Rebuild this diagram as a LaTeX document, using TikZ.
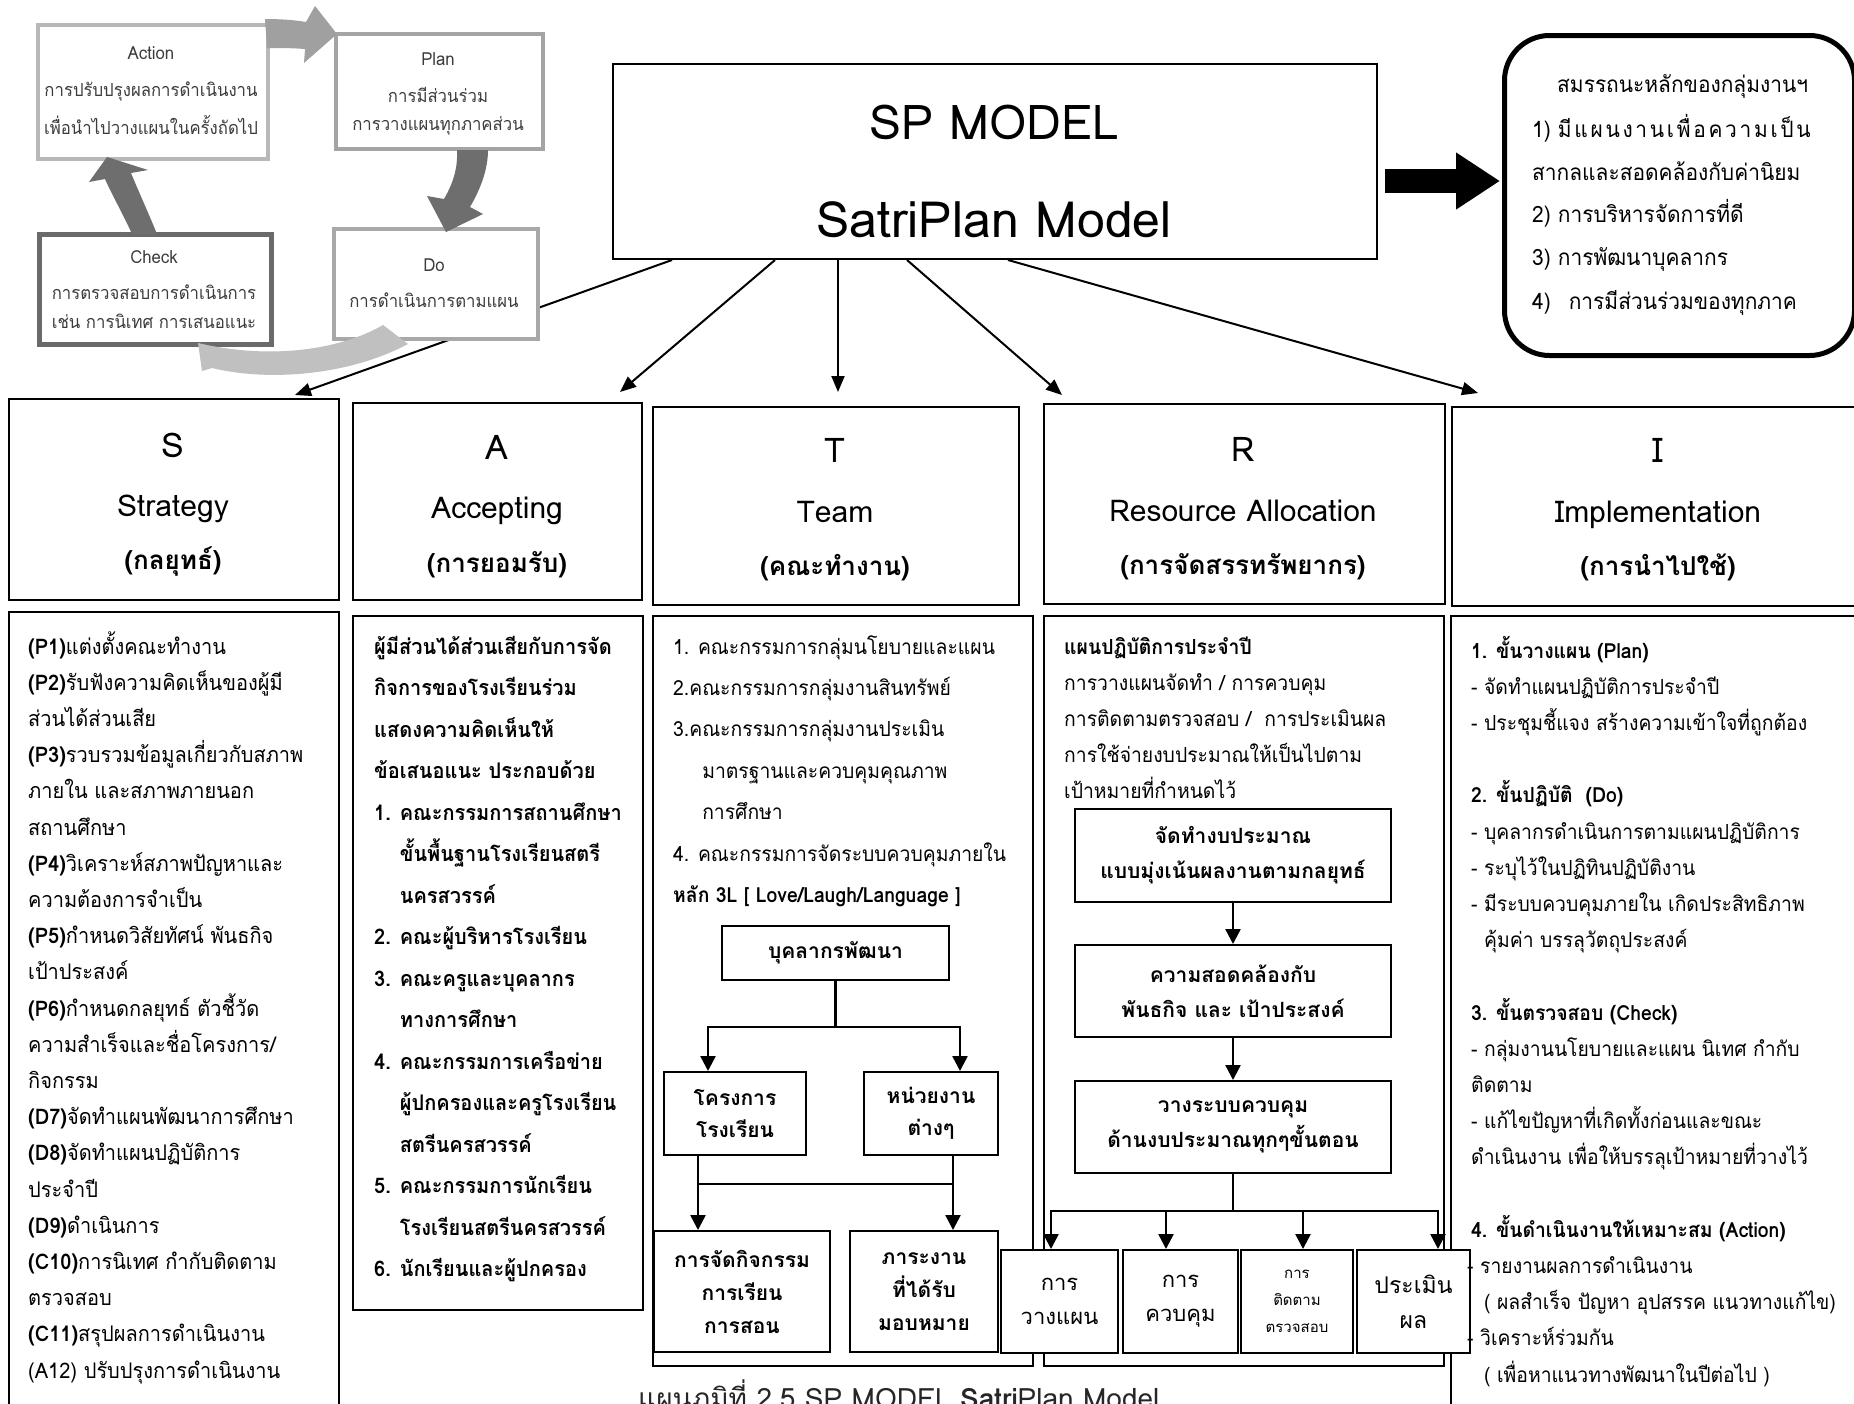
\documentclass[tikz,border=0pt]{standalone}
\usepackage{fontspec}
\setmainfont{Loma}[Script=Thai]
\newfontfamily\narrowthai{Loma}[Script=Thai, FakeStretch=0.93]
\usetikzlibrary{arrows.meta,calc}
\newcommand{\myfs}[2]{\fontsize{#1}{#2}\selectfont}
\definecolor{pdtxt}{HTML}{3C3C3C}
\definecolor{gA}{HTML}{B8B8B8}
\definecolor{gP}{HTML}{A4A4A4}
\definecolor{gD}{HTML}{A8A8A8}
\definecolor{gC}{HTML}{6A6A6A}
\definecolor{arDark}{HTML}{6E6E6E}
\definecolor{arMid}{HTML}{A0A0A0}
\definecolor{arLight}{HTML}{C0C0C0}
\begin{document}
\begin{tikzpicture}[x=1pt,y=-1pt,
  bx/.style={draw, line width=2pt, fill=white, inner sep=0pt, anchor=north west},
  tx/.style={inner sep=0pt, anchor=base west},
  ctx/.style={inner sep=0pt, anchor=base},
  arr/.style={line width=2pt, -{Triangle[length=16pt,width=13pt]}},
  arrS/.style={line width=2.5pt, -{Triangle[length=15pt,width=15pt]}},
  pdbox/.style={draw, line width=4pt, fill=white, inner sep=0pt, anchor=north west},
  pdt/.style={inner sep=0pt, anchor=base, text=pdtxt, font=\narrowthai\myfs{18}{18}},
  hl/.style={font=\myfs{34}{34}},
  hw/.style={font=\myfs{30}{30}},
  ht/.style={font=\bfseries\myfs{26}{26}},
  cmp/.style={inner sep=0pt, anchor=base west, font=\narrowthai\myfs{22.5}{22.5}}
]
\useasboundingbox (0,0) rectangle (1854,1403);
\clip (0,0) rectangle (1854,1403);
\fill[white] (0,0) rectangle (1854,1403);

% ---------------- SP MODEL box ----------------
\node[bx] (sp) at (612,63) [minimum width=764, minimum height=195] {};
\node[ctx, font=\myfs{48}{48}] (spa) at (994,139) {SP MODEL};
\node[ctx, font=\myfs{50}{50}] (spb) at (994,237) {SatriPlan Model};

% line to S (drawn below PDCA)
\coordinate (endS) at (295,395);
\draw[arr] ($(sp.south west)+(60,0)$) -- (endS);

% ---------------- PDCA cycle ----------------
\node[pdbox, draw=gA, minimum width=230, minimum height=134] (act) at (36,23) {};
\node[pdbox, draw=gP, minimum width=207, minimum height=115] (pln) at (334,32) {};
\node[pdbox, draw=gD, minimum width=204, minimum height=110] (doo) at (332,227) {};
\node[pdbox, draw=gC, line width=5pt, minimum width=232, minimum height=110] (chk) at (37,232) {};

\node[pdt] (actA) at (151,59) {Action};
\node[pdt] (actB) at (151,96) {การปรับปรุงผลการดำเนินงาน};
\node[pdt] (actC) at (151,134) {เพื่อนำไปวางแผนในครั้งถัดไป};
\node[pdt] (plnA) at (438,65) {Plan};
\node[pdt] (plnB) at (438,102) {การมีส่วนร่วม};
\node[pdt] (plnC) at (438,130) {การวางแผนทุกภาคส่วน};
\node[pdt] (dooA) at (434,271) {Do};
\node[pdt] (dooB) at (434,307) {การดำเนินการตามแผน};
\node[pdt] (chkA) at (154,263) {Check};
\node[pdt] (chkB) at (154,299) {การตรวจสอบการดำเนินการ};
\node[pdt] (chkC) at (154,328) {เช่น การนิเทศ การเสนอแนะ};

% block arrows of the cycle
\fill[arMid] (265,19) .. controls (280,19) and (295,20) .. (306,22) -- (315,6) -- (337,34) -- (304,63) -- (305,49) .. controls (292,48) and (280,48) .. (267,48) -- cycle;
\fill[arDark] (457,150) .. controls (458,170) and (452,185) .. (444,199) -- (427,196) -- (446,232) -- (483,214) -- (470,207) .. controls (480,190) and (488,170) .. (488,150) -- cycle;
\fill[arDark] (132,234) .. controls (122,212) and (112,195) .. (105,179) -- (89,182) -- (107,157) -- (148,170) -- (131,173) .. controls (138,190) and (148,212) .. (157,234) -- cycle;
\fill[arLight] (383,325) .. controls (340,350) and (270,360) .. (198,343) -- (202,371) -- (212,368) .. controls (270,382) and (350,375) .. (408,344) -- cycle;

% ---------------- Competency box ----------------
\node[draw, line width=5pt, rounded corners=45pt, fill=white, inner sep=0pt, anchor=north west,
      minimum width=350, minimum height=320] (comp) at (1502,33) {};
\node[cmp] (comp0) at (1557,92) {สมรรถนะหลักของกลุ่มงานฯ};
\node[cmp] (comp1) at (1532,137) {1) {\addfontfeature{LetterSpace=12}มีแผนงานเพื่อความเป็น}};
\node[cmp] (comp2) at (1532,180) {สากลและสอดคล้องกับค่านิยม};
\node[cmp] (comp3) at (1532,222) {2) การบริหารจัดการที่ดี};
\node[cmp] (comp4) at (1532,265) {3) การพัฒนาบุคลากร};
\node[cmp] (comp5) at (1532,309) {4)\hspace{18pt}การมีส่วนร่วมของทุกภาค};

\draw[line width=24pt, -{Triangle[length=44pt,width=54pt]}, shorten <=7pt, shorten >=2pt] (sp.east |- 0,181) -- (comp.west |- 0,181);

% ---------------- Headers ----------------
\node[bx, minimum width=330, minimum height=201] (hS) at (8,398) {};
\node[bx, minimum width=289, minimum height=197] (hA) at (352,402) {};
\node[bx, minimum width=366, minimum height=198] (hT) at (652,406) {};
\node[bx, minimum width=401, minimum height=200] (hR) at (1043,403) {};
\node[bx, minimum width=420, minimum height=199] (hI) at (1451,406) {};

\node[ctx, hl] (hS1) at (173,457) {S};
\node[ctx, hw] (hS2) at (173,516) {Strategy};
\node[ctx, ht] (hS3) at (173,569) {(กลยุทธ์)};
\node[ctx, hl] (hA1) at (497,459) {A};
\node[ctx, hw] (hA2) at (497,518) {Accepting};
\node[ctx, ht] (hA3) at (497,572) {(การยอมรับ)};
\node[ctx, hl] (hT1) at (835,462) {T};
\node[ctx, hw] (hT2) at (835,522) {Team};
\node[ctx, ht] (hT3) at (835,575) {(คณะทำงาน)};
\node[ctx, hl] (hR1) at (1243,461) {R};
\node[ctx, hw] (hR2) at (1243,521) {Resource Allocation};
\node[ctx, ht] (hR3) at (1243,574) {(การจัดสรรทรัพยากร)};
\node[ctx, hl] (hI1) at (1658,462) {I};
\node[ctx, hw] (hI2) at (1658,522) {Implementation};
\node[ctx, ht] (hI3) at (1658,575) {(การนำไปใช้)};

% arrows SP -> headers
\draw[arr] ($(sp.south west)+(163,0)$) -- ($(hA.north west)+(268,-10)$) coordinate (endA);
\draw[arr] ($(sp.south west)+(226,0)$) -- ($(hT.north west)+(186,-14)$) coordinate (endT);
\draw[arr] ($(sp.south west)+(295,0)$) -- ($(hR.north west)+(19,-8)$) coordinate (endR);
\draw[arr] ($(sp.south west)+(396,0)$) -- ($(hI.north west)+(27,-13)$) coordinate (endI);

% ---------------- Bodies ----------------
\node[bx, minimum width=330, minimum height=830] (bS) at (8,611) {};
\node[bx, minimum width=290, minimum height=694] (bA) at (352,615) {};
\node[bx, minimum width=380, minimum height=750] (bT) at (652,615) {};
\node[bx, minimum width=400, minimum height=750] (bR) at (1043,615) {};
\node[bx, minimum width=430, minimum height=830] (bI) at (1450,615) {};

% S body
\foreach \t [count=\i from 0] in {
 {\textbf{(P1)}แต่งตั้งคณะทำงาน},
 {\textbf{(P2)}รับฟังความคิดเห็นของผู้มี},
 {ส่วนได้ส่วนเสีย},
 {\textbf{(P3)}รวบรวมข้อมูลเกี่ยวกับสภาพ},
 {ภายใน และสภาพภายนอก},
 {สถานศึกษา},
 {\textbf{(P4)}วิเคราะห์สภาพปัญหาและ},
 {ความต้องการจำเป็น},
 {\textbf{(P5)}กำหนดวิสัยทัศน์ พันธกิจ},
 {เป้าประสงค์},
 {\textbf{(P6)}กำหนดกลยุทธ์ ตัวชี้วัด},
 {ความสำเร็จและชื่อโครงการ/},
 {กิจกรรม},
 {\textbf{(D7)}จัดทำแผนพัฒนาการศึกษา},
 {\textbf{(D8)}จัดทำแผนปฏิบัติการ},
 {ประจำปี},
 {\textbf{(D9)}ดำเนินการ},
 {\textbf{(C10)}การนิเทศ กำกับติดตาม},
 {ตรวจสอบ},
 {\textbf{(C11)}สรุปผลการดำเนินงาน},
 {(A12) ปรับปรุงการดำเนินงาน}}
 \node[tx, font=\narrowthai\myfs{21.5}{21.5}] (s\i) at (28,654+36.2*\i) {\t};

% A body
\foreach \t [count=\i from 0] in {
 {ผู้มีส่วนได้ส่วนเสียกับการจัด},
 {กิจการของโรงเรียนร่วม},
 {แสดงความคิดเห็นให้},
 {ข้อเสนอแนะ ประกอบด้วย},
 {1. คณะกรรมการสถานศึกษา},
 {\hphantom{1. }ขั้นพื้นฐานโรงเรียนสตรี},
 {\hphantom{1. }นครสวรรค์},
 {2. คณะผู้บริหารโรงเรียน},
 {3. คณะครูและบุคลากร},
 {\hphantom{3. }ทางการศึกษา},
 {4. คณะกรรมการเครือข่าย},
 {\hphantom{4. }ผู้ปกครองและครูโรงเรียน},
 {\hphantom{4. }สตรีนครสวรรค์},
 {5. คณะกรรมการนักเรียน},
 {\hphantom{5. }โรงเรียนสตรีนครสวรรค์},
 {6. นักเรียนและผู้ปกครอง}}
 \node[tx, font=\narrowthai\bfseries\myfs{21.5}{21.5}] (a\i) at (374,654+41.5*\i) {\t};

% T body
\foreach \t [count=\i from 0] in {
 {1. คณะกรรมการกลุ่มนโยบายและแผน},
 {2.คณะกรรมการกลุ่มงานสินทรัพย์},
 {3.คณะกรรมการกลุ่มงานประเมิน},
 {\hphantom{3.ค}มาตรฐานและควบคุมคุณภาพ},
 {\hphantom{3.ค}การศึกษา},
 {4. คณะกรรมการจัดระบบควบคุมภายใน},
 {\textbf{หลัก 3L [ Love/Laugh/Language ]}}}
 \node[tx, font=\narrowthai\myfs{20.8}{20.8}] (t\i) at (673,654+41.4*\i) {\t};

\node[bx, minimum width=227, minimum height=54, font=\bfseries\myfs{21}{33}, align=center] (bk) at (721,925) {บุคลากรพัฒนา};
\node[bx, minimum width=142, minimum height=83, font=\bfseries\myfs{21}{32}, align=center] (kr) at (663,1071) {โครงการ\\โรงเรียน};
\node[bx, minimum width=134, minimum height=83, font=\bfseries\myfs{21}{32}, align=center] (hw) at (863,1071) {หน่วยงาน\\ต่างๆ};
\node[bx, minimum width=176, minimum height=121, font=\bfseries\myfs{21}{33}, align=center] (ac) at (653,1230) {การจัดกิจกรรม\\การเรียน\\การสอน};
\node[bx, minimum width=148, minimum height=121, font=\bfseries\myfs{21}{33}, align=center] (pr) at (849,1230) {ภาระงาน\\ที่ได้รับ\\มอบหมาย};

\draw[arrS] (bk.south) -- ++(0,46) -| ($(kr.north west)+(45,0)$);
\draw[arrS] (bk.south) -- ++(0,46) -| ($(hw.north west)+(97,0)$);
\draw[arrS] ($(kr.south west)+(35,0)$) -- ($(ac.north west)+(45,0)$);
\draw[arrS] ($(hw.south west)+(90,0)$) -- ($(pr.north west)+(104,0)$);
\draw[line width=2.5pt] ($(kr.south west)+(35,28)$) -- ($(hw.south west)+(90,28)$);

% R body
\foreach \t [count=\i from 0] in {
 {\textbf{แผนปฏิบัติการประจำปี}},
 {การวางแผนจัดทำ / การควบคุม},
 {การติดตามตรวจสอบ /\ \ การประเมินผล},
 {การใช้จ่ายงบประมาณให้เป็นไปตาม},
 {เป้าหมายที่กำหนดไว้}}
 \node[tx, font=\narrowthai\myfs{20.8}{20.8}] (r\i) at (1064,654+36.1*\i) {\t};

\node[bx, minimum width=316, minimum height=93, font=\bfseries\myfs{21}{35}, align=center] (rb1) at (1074,808) {จัดทำงบประมาณ\\แบบมุ่งเน้นผลงานตามกลยุทธ์};
\node[bx, minimum width=316, minimum height=92, font=\bfseries\myfs{21}{35}, align=center] (rb2) at (1074,944) {ความสอดคล้องกับ\\พันธกิจ และ เป้าประสงค์};
\node[bx, minimum width=316, minimum height=92, font=\bfseries\myfs{21}{35}, align=center] (rb3) at (1074,1080) {วางระบบควบคุม\\ด้านงบประมาณทุกๆขั้นตอน};
\draw[arrS] (rb1) -- (rb2);
\draw[arrS] (rb2) -- (rb3);

\node[bx, minimum width=117, minimum height=103, font=\myfs{22}{34}, align=center] (u1) at (1000,1249) {การ\\วางแผน};
\node[bx, minimum width=115, minimum height=103, font=\myfs{22}{34}, align=center] (u2) at (1122,1249) {การ\\ควบคุม};
\node[bx, minimum width=112, minimum height=103, font=\myfs{15}{27}, align=center] (u3) at (1240,1249) {การ\\ติดตาม\\ตรวจสอบ};
\node[bx, minimum width=113, minimum height=103, font=\myfs{23}{35}, align=center] (u4) at (1356,1249) {ประเมิน\\ผล};
\draw[arrS] (rb3.south) -- ++(0,37) -| ($(u1.north west)+(51,0)$);
\draw[arrS] (rb3.south) -- ++(0,37) -| ($(u2.north west)+(44,0)$);
\draw[arrS] (rb3.south) -- ++(0,37) -| ($(u3.north west)+(63,0)$);
\draw[arrS] (rb3.south) -- ++(0,37) -| ($(u4.north west)+(82,0)$);

% I body
\foreach \t/\k in {
 {\textbf{1. ขั้นวางแผน (Plan)}}/0,
 {- จัดทำแผนปฏิบัติการประจำปี}/1,
 {- ประชุมชี้แจง สร้างความเข้าใจที่ถูกต้อง}/2,
 {\textbf{2. ขั้นปฏิบัติ\ \ (Do)}}/4,
 {- บุคลากรดำเนินการตามแผนปฏิบัติการ}/5,
 {- ระบุไว้ในปฏิทินปฏิบัติงาน}/6,
 {- มีระบบควบคุมภายใน เกิดประสิทธิภาพ}/7,
 {\hphantom{-}\ คุ้มค่า บรรลุวัตถุประสงค์}/8,
 {\textbf{3. ขั้นตรวจสอบ (Check)}}/10,
 {- กลุ่มงานนโยบายและแผน นิเทศ กำกับ}/11,
 {ติดตาม}/12,
 {- แก้ไขปัญหาที่เกิดทั้งก่อนและขณะ}/13,
 {ดำเนินงาน เพื่อให้บรรลุเป้าหมายที่วางไว้}/14,
 {\textbf{4. ขั้นดำเนินงานให้เหมาะสม (Action)}}/16,
 {\hspace{-4pt}- รายงานผลการดำเนินงาน}/17,
 {\hphantom{-}\ ( ผลสำเร็จ ปัญหา อุปสรรค แนวทางแก้ไข)}/18,
 {\hspace{-4pt}- วิเคราะห์ร่วมกัน}/19,
 {\hphantom{-}\ ( เพื่อหาแนวทางพัฒนาในปีต่อไป )}/20}
 \node[tx, font=\narrowthai\myfs{20.8}{20.8}] (i\k) at (1471,658+36.2*\k) {\t};

% caption
\node[tx, font=\myfs{28}{28}, text=black!85] (cap) at (638,1408) {แผนภูมิที่ 2.5 SP MODEL \textbf{Satri}Plan Model};
\end{tikzpicture}
\end{document}
